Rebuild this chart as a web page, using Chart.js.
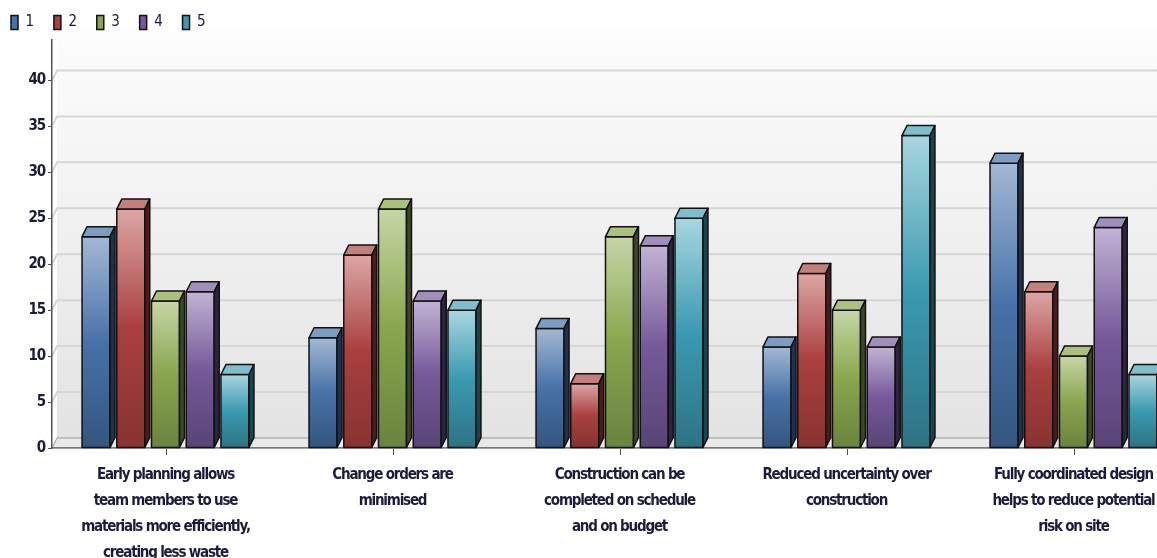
<!DOCTYPE html>
<html>
<head>
<meta charset="utf-8">
<script src="https://cdn.jsdelivr.net/npm/chart.js@4.4.1/dist/chart.umd.min.js"></script>
<style>
  html, body { margin: 0; padding: 0; background: #fff; overflow: hidden; }
  #wrap { position: absolute; left: -10px; top: 0; }
</style>
</head>
<body>
<div id="wrap"><canvas id="grafico" width="1199" height="558"></canvas></div>
<script>
const categorias = [
  ["Early planning allows", "team members to use", "materials more efficiently,", "creating less waste"],
  ["Change orders are", "minimised"],
  ["Construction can be", "completed on schedule", "and on budget"],
  ["Reduced uncertainty over", "construction"],
  ["Fully coordinated design", "helps to reduce potential", "risk on site"],
];
const nomesSeries = ["1", "2", "3", "4", "5"];
const serie1 = [23, 12, 13, 11, 31];
const serie2 = [26, 21, 7, 19, 17];
const serie3 = [16, 26, 23, 15, 10];
const serie4 = [17, 16, 22, 11, 24];
const serie5 = [8, 15, 25, 34, 8];
const yTicks = [0, 5, 10, 15, 20, 25, 30, 35, 40];

// cores de cada serie: topo, meio, base da face, tampa e lateral
const cores = [
  { topo: "#a3b8d4", meio: "#4772a8", base: "#34567f", tampa: "#7d9cc4", lado: "#1f3150" },
  { topo: "#dca6a5", meio: "#a9403e", base: "#873331", tampa: "#c47f7d", lado: "#4b1b1b" },
  { topo: "#c6d6a6", meio: "#89a64d", base: "#6a833e", tampa: "#abc07f", lado: "#3b4922" },
  { topo: "#c2b3d4", meio: "#75599a", base: "#584475", tampa: "#a08ebb", lado: "#2f2440" },
  { topo: "#a8d6e0", meio: "#3a9ab0", base: "#2d7384", tampa: "#7fbfcd", lado: "#19454f" },
];

const fonte = '"DejaVu Sans Condensed", "Liberation Sans Narrow", sans-serif';
const corTexto = "#1b1b3b";
const prof = { dx: 5, dy: 10 };

class Grafico3D {
  // texto mais apertado em todo o grafico
  static texto = {
    id: "texto",
    beforeUpdate(chart) { chart.ctx.letterSpacing = "-1.2px"; },
    beforeDraw(chart) { chart.ctx.letterSpacing = "-1.2px"; },
  };

  // parede do fundo, linhas de grade e piso
  static parede = {
    id: "parede",
    beforeDraw(chart) {
      const { ctx, chartArea: a, scales } = chart;
      const { dx, dy } = prof;
      ctx.save();
      const g = ctx.createLinearGradient(0, a.top - dy, 0, a.bottom - dy);
      g.addColorStop(0, "#fdfdfd");
      g.addColorStop(1, "#e3e3e3");
      ctx.fillStyle = g;
      ctx.fillRect(a.left + dx, a.top - dy, a.right - a.left, a.bottom - a.top);

      ctx.strokeStyle = "#d6d6d6";
      ctx.lineWidth = 2;
      scales.y.ticks.forEach((t) => {
        if (t.value === 0) return;
        const py = scales.y.getPixelForValue(t.value);
        ctx.beginPath();
        ctx.moveTo(a.left, py);
        ctx.lineTo(a.left + dx, py - dy);
        ctx.lineTo(a.right + dx, py - dy);
        ctx.stroke();
      });

      ctx.beginPath();
      ctx.moveTo(a.left, a.bottom);
      ctx.lineTo(a.left + dx, a.bottom - dy);
      ctx.lineTo(a.right + dx, a.bottom - dy);
      ctx.lineTo(a.right, a.bottom);
      ctx.closePath();
      ctx.fillStyle = "#e9e9e9";
      ctx.fill();
      ctx.strokeStyle = "#9a9a9a";
      ctx.lineWidth = 1;
      ctx.stroke();
      ctx.restore();
    },
    // marcas do eixo x no centro de cada categoria
    afterDraw(chart) {
      const { ctx, chartArea: a, scales } = chart;
      ctx.save();
      ctx.strokeStyle = "#555";
      ctx.lineWidth = 1;
      scales.x.ticks.forEach((t, i) => {
        const px = Math.round(scales.x.getPixelForTick(i)) + 0.5;
        ctx.beginPath();
        ctx.moveTo(px, a.bottom + 1);
        ctx.lineTo(px, a.bottom + 7);
        ctx.stroke();
      });
      ctx.restore();
    },
  };

  // barras com face em degrade, tampa e lateral
  static barras = {
    id: "barras3d",
    afterDatasetsDraw(chart) {
      const { ctx } = chart;
      const { dx, dy } = prof;
      ctx.save();
      ctx.lineJoin = "round";
      ctx.strokeStyle = "#111";
      ctx.lineWidth = 1.5;
      chart.data.datasets.forEach((ds, i) => {
        const c = cores[i];
        chart.getDatasetMeta(i).data.forEach((el) => {
          const { x, y, base, width } = el.getProps(["x", "y", "base", "width"], true);
          const x0 = x - width / 2;
          const x1 = x + width / 2;

          const g = ctx.createLinearGradient(0, y, 0, base);
          g.addColorStop(0, c.topo);
          g.addColorStop(0.5, c.meio);
          g.addColorStop(1, c.base);
          ctx.fillStyle = g;
          ctx.beginPath();
          ctx.rect(x0, y, width, base - y);
          ctx.fill();
          ctx.stroke();

          ctx.beginPath();
          ctx.moveTo(x0, y);
          ctx.lineTo(x0 + dx, y - dy);
          ctx.lineTo(x1 + dx, y - dy);
          ctx.lineTo(x1, y);
          ctx.closePath();
          ctx.fillStyle = c.tampa;
          ctx.fill();
          ctx.stroke();

          ctx.beginPath();
          ctx.moveTo(x1, y);
          ctx.lineTo(x1 + dx, y - dy);
          ctx.lineTo(x1 + dx, base - dy);
          ctx.lineTo(x1, base);
          ctx.closePath();
          ctx.fillStyle = c.lado;
          ctx.fill();
          ctx.stroke();
        });
      });
      ctx.restore();
    },
  };

  static mostrar() {
    const series = [serie1, serie2, serie3, serie4, serie5];
    new Chart(document.getElementById("grafico"), {
      type: "bar",
      data: {
        labels: categorias,
        datasets: series.map((valores, i) => ({
          label: nomesSeries[i],
          data: valores,
          backgroundColor: cores[i].meio,
          borderColor: "#111",
          borderWidth: 1.5,
          categoryPercentage: 0.765,
          barPercentage: 0.806,
        })),
      },
      options: {
        responsive: false,
        animation: false,
        layout: { padding: { top: -6, right: 2, left: 0, bottom: 0 } },
        plugins: {
          tooltip: { enabled: false },
          legend: {
            position: "top",
            align: "start",
            labels: {
              boxWidth: 7,
              boxHeight: 14,
              padding: 21,
              color: corTexto,
              font: { family: fonte, size: 15 },
            },
          },
        },
        scales: {
          x: {
            afterFit: (s) => { s.height = 110; },
            grid: { display: false },
            border: { color: "#777", width: 1.5 },
            ticks: {
              autoSkip: false,
              maxRotation: 0,
              padding: 6,
              color: corTexto,
              font: { family: fonte, size: 15, weight: "bold", lineHeight: 1.73 },
            },
          },
          y: {
            min: 0,
            max: 44.4,
            afterFit: (s) => { s.width = 62; },
            afterBuildTicks: (s) => { s.ticks = yTicks.map((v) => ({ value: v })); },
            grid: { drawOnChartArea: false, tickLength: 4, color: "#555" },
            border: { color: "#555", width: 1.5 },
            ticks: {
              padding: 3,
              color: corTexto,
              font: { family: fonte, size: 15, weight: "bold" },
            },
          },
        },
      },
      plugins: [Grafico3D.texto, Grafico3D.parede, Grafico3D.barras],
    });
  }
}

Grafico3D.mostrar();
</script>
</body>
</html>
